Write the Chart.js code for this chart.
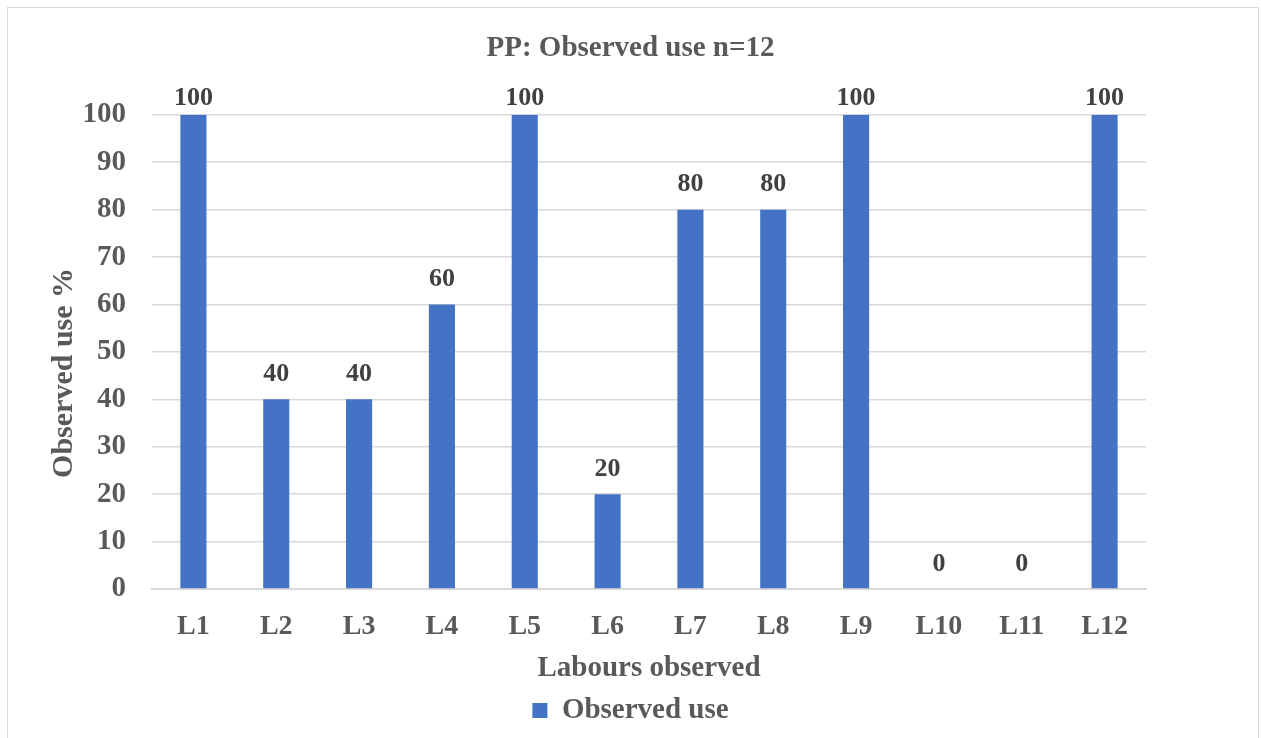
<!DOCTYPE html>
<html>
<head>
<meta charset="utf-8">
<script src="https://cdn.jsdelivr.net/npm/chart.js@4/dist/chart.umd.min.js"></script>
<style>
  html, body { margin: 0; padding: 0; background: #ffffff; }
  #frame { position: absolute; left: 7px; top: 7px; width: 1252px; height: 760px; border: 1px solid #d9d9d9; box-sizing: border-box; }
  #wrap { position: absolute; left: 0; top: 0; width: 1261px; height: 738px; }
</style>
</head>
<body>
<div id="frame"></div>
<div id="wrap"><canvas id="c" width="1261" height="738"></canvas></div>
<script>
const categories = ['L1', 'L2', 'L3', 'L4', 'L5', 'L6', 'L7', 'L8', 'L9', 'L10', 'L11', 'L12'];
const observedUse = [100, 40, 40, 60, 100, 20, 80, 80, 100, 0, 0, 100];
const yTicks = [0, 10, 20, 30, 40, 50, 60, 70, 80, 90, 100];

const SERIF = "'Liberation Serif', 'Times New Roman', serif";
const GREY = '#595959';

// Value labels above each bar, kept just above the top of the plot area
const valueLabels = {
  id: 'valueLabels',
  afterDatasetsDraw(chart) {
    const ctx = chart.ctx;
    const meta = chart.getDatasetMeta(0);
    const top = chart.chartArea.top;
    ctx.save();
    ctx.font = 'bold 26px ' + SERIF;
    ctx.fillStyle = '#404040';
    ctx.textAlign = 'center';
    ctx.textBaseline = 'middle';
    meta.data.forEach((bar, i) => {
      const y = Math.max(bar.y - 25, top - 17);
      ctx.fillText(String(observedUse[i]), bar.x, y);
    });
    ctx.restore();
  }
};

// Rotated value-axis title
const yTitle = {
  id: 'yTitle',
  afterDraw(chart) {
    const ctx = chart.ctx;
    const a = chart.chartArea;
    ctx.save();
    ctx.translate(64, (a.top + a.bottom) / 2 + 21);
    ctx.rotate(-Math.PI / 2);
    ctx.font = 'bold 30px ' + SERIF;
    ctx.fillStyle = GREY;
    ctx.textAlign = 'center';
    ctx.textBaseline = 'middle';
    ctx.fillText('Observed use %', 0, 0);
    ctx.restore();
  }
};

new Chart(document.getElementById('c'), {
  type: 'bar',
  data: {
    labels: categories,
    datasets: [{
      label: 'Observed use',
      data: observedUse,
      backgroundColor: '#4472c4',
      borderWidth: 0,
      categoryPercentage: 1.0,
      barPercentage: 0.315
    }]
  },
  options: {
    responsive: false,
    animation: false,
    devicePixelRatio: 1,
    layout: { padding: { left: 7, right: 7, top: 7, bottom: 3 } },
    plugins: {
      title: {
        display: true,
        text: 'PP: Observed use n=12',
        color: GREY,
        font: { family: SERIF, size: 29, weight: 'bold' },
        padding: { top: 24, bottom: 49 }
      },
      legend: {
        display: true,
        position: 'bottom',
        labels: {
          color: GREY,
          font: { family: SERIF, size: 29, weight: 'bold' },
          boxWidth: 15,
          boxHeight: 15,
          padding: 8
        }
      },
      tooltip: { enabled: false }
    },
    scales: {
      x: {
        afterFit(scale) { scale.height = 99; },
        grid: { display: false, drawTicks: false },
        border: { display: true, color: '#d9d9d9', width: 2 },
        ticks: {
          color: GREY,
          font: { family: SERIF, size: 28, weight: 'bold' },
          padding: 21,
          maxRotation: 0
        },
        title: {
          display: true,
          text: 'Labours observed',
          color: GREY,
          font: { family: SERIF, size: 29, weight: 'bold' },
          padding: { top: 0, bottom: 2 }
        }
      },
      y: {
        min: 0,
        max: 100,
        afterFit(scale) { scale.width = 145; },
        afterBuildTicks(scale) { scale.ticks = yTicks.map(v => ({ value: v })); },
        grid: { color: '#d9d9d9', lineWidth: 1.5, drawTicks: false },
        border: { display: false },
        ticks: {
          color: GREY,
          font: { family: SERIF, size: 29, weight: 'bold' },
          padding: 26
        }
      },
      yRight: {
        type: 'linear',
        position: 'right',
        display: true,
        afterFit(scale) { scale.width = 108; },
        grid: { display: false, drawTicks: false },
        border: { display: false },
        ticks: { display: false }
      }
    }
  },
  plugins: [valueLabels, yTitle]
});
</script>
</body>
</html>
